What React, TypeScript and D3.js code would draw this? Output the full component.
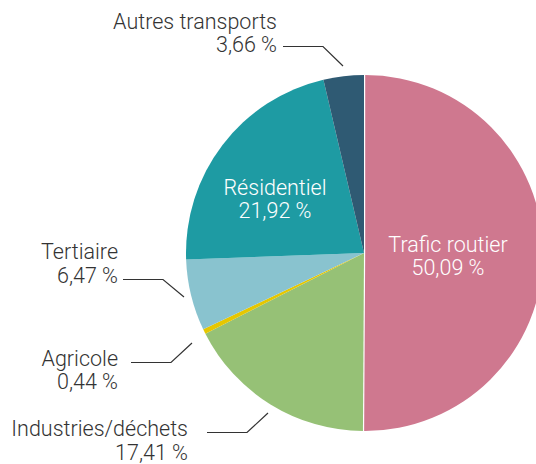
import React from "react";
import * as d3 from "d3";

const categories = ["Trafic routier", "Industries/déchets", "Agricole", "Tertiaire", "Résidentiel", "Autres transports"];
const values = [50.09, 17.41, 0.44, 6.47, 21.92, 3.66];
const valueLabels = ["50,09 %", "17,41 %", "0,44 %", "6,47 %", "21,92 %", "3,66 %"];
const colors = ["#cf788f", "#96c176", "#e6c700", "#89c3cf", "#1e9ba3", "#2f5a73"];

const W = 536, H = 464;
const cx = 364, cy = 253, R = 178;
const font = "Roboto, 'DejaVu Sans', sans-serif";
const LH = 23.7;

export default function App() {
  const pie = d3.pie<number>().sort(null).value((d) => d);
  const arcs = pie(values);
  const arc = d3.arc<d3.PieArcDatum<number>>().innerRadius(0).outerRadius(R);

  const outer: { i: number; x: number; y: number; pts: [number, number][] }[] = [
    { i: 5, x: 277, y: 28.5, pts: [[283, 46.5], [323, 46.5], [343, 66]] },
    { i: 3, x: 118, y: 259, pts: [[123, 279.5], [163, 279.5], [184, 297]] },
    { i: 2, x: 118, y: 365.5, pts: [[131, 362.5], [171, 362.5], [192, 343]] },
    { i: 1, x: 188, y: 436, pts: [[207, 432.5], [247, 432.5], [268, 413]] },
  ];

  const inside = [
    { i: 4, x: 275, y: 194.5 },
    { i: 0, x: 448, y: 251.5 },
  ];

  return (
    <svg width={W} height={H} style={{ position: "absolute", left: 0, top: 0, background: "#fff" }}>
      <g transform={`translate(${cx},${cy})`}>
        {arcs.map((a, i) => (
          <path
            key={i}
            d={arc(a) || ""}
            fill={colors[i]}
            transform={i === 0 ? "translate(1.2,0)" : undefined}
          />
        ))}
      </g>
      <g fontFamily={font} fontSize={21.5} fontWeight={300}>
        {inside.map((o) => (
          <text key={o.i} fill="#fff" textAnchor="middle">
            <tspan x={o.x} y={o.y}>{categories[o.i]}</tspan>
            <tspan x={o.x} dy={LH}>{valueLabels[o.i]}</tspan>
          </text>
        ))}
        {outer.map((o) => (
          <g key={o.i}>
            <text fill="#333" textAnchor="end">
              <tspan x={o.x} y={o.y}>{categories[o.i]}</tspan>
              <tspan x={o.x} dy={LH}>{valueLabels[o.i]}</tspan>
            </text>
            <polyline points={o.pts.map((p) => p.join(",")).join(" ")} fill="none" stroke="#333" strokeWidth={1.2} />
          </g>
        ))}
      </g>
    </svg>
  );
}
